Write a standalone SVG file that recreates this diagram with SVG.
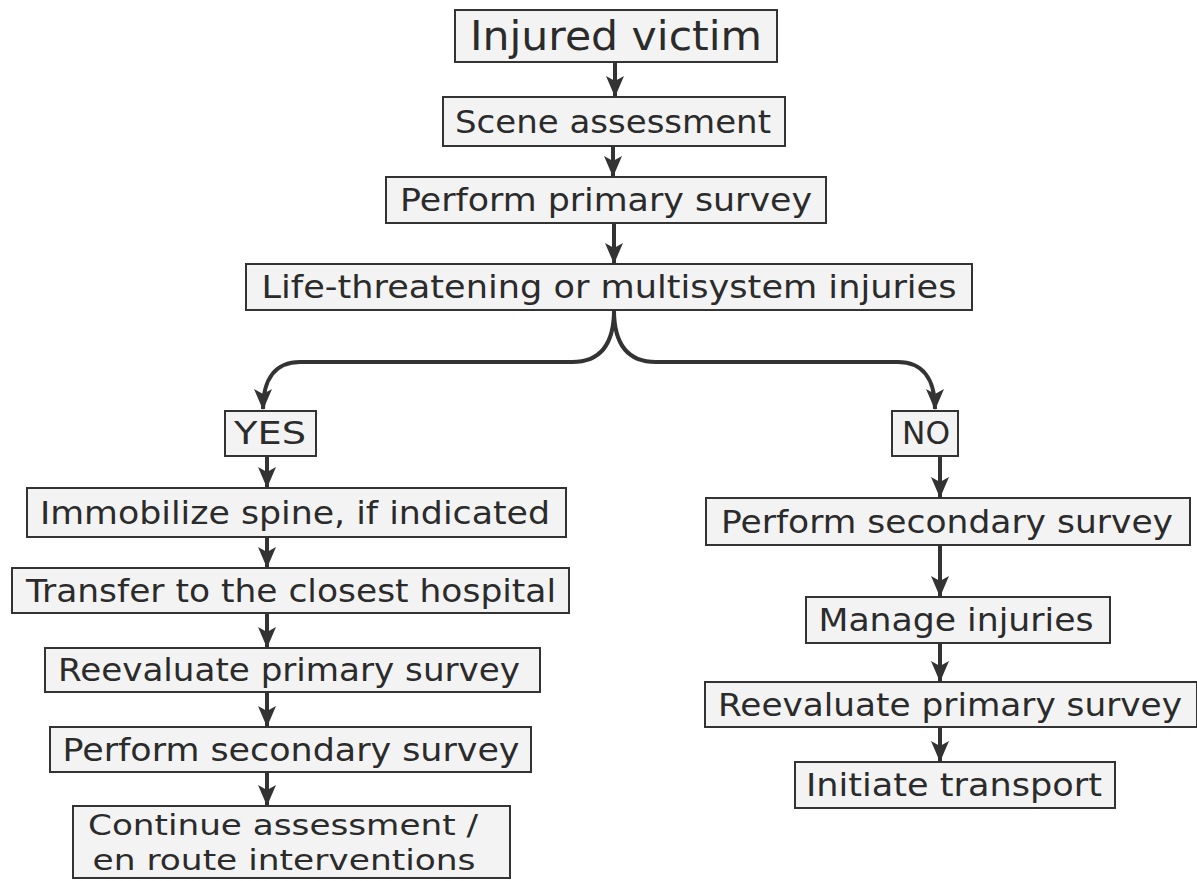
<svg xmlns="http://www.w3.org/2000/svg" width="1197" height="881" viewBox="0 0 1197 881">
<style>
.box{fill:#f3f3f3;stroke:#333;stroke-width:2}
.t{font-family:"DejaVu Sans",Verdana,sans-serif;font-size:32px;fill:#2b2b2b;text-anchor:middle}
.c{fill:none;stroke:#333;stroke-width:4}
</style>
<defs>
<marker id="ah" markerWidth="22" markerHeight="20" refX="20" refY="10" orient="auto" markerUnits="userSpaceOnUse">
<path d="M0,1 L21,10 L0,19 L5,10 Z" fill="#333"/>
</marker>
</defs>
<rect width="1197" height="881" fill="#fff"/>
<g id="n1"><rect class="box" x="455" y="10" width="322" height="52"/><text class="t" x="616" y="50" style="font-size:40px" textLength="292" lengthAdjust="spacingAndGlyphs">Injured victim</text></g>
<g id="n2"><rect class="box" x="443" y="97" width="342" height="49"/><text class="t" x="613" y="133" textLength="316" lengthAdjust="spacingAndGlyphs">Scene assessment</text></g>
<g id="n3"><rect class="box" x="386" y="177" width="440" height="46"/><text class="t" x="606" y="211" textLength="412" lengthAdjust="spacingAndGlyphs">Perform primary survey</text></g>
<g id="n4"><rect class="box" x="246" y="264" width="726" height="46"/><text class="t" x="609" y="298" textLength="695" lengthAdjust="spacingAndGlyphs">Life-threatening or multisystem injuries</text></g>
<g id="yes"><rect class="box" x="225" y="411" width="91" height="45"/><text class="t" x="270" y="444" textLength="72" lengthAdjust="spacingAndGlyphs">YES</text></g>
<g id="no"><rect class="box" x="892" y="411" width="66" height="45"/><text class="t" x="926" y="444" textLength="48" lengthAdjust="spacingAndGlyphs">NO</text></g>
<g id="l1"><rect class="box" x="27" y="488" width="539" height="49"/><text class="t" x="295" y="524" textLength="510" lengthAdjust="spacingAndGlyphs">Immobilize spine, if indicated</text></g>
<g id="l2"><rect class="box" x="12" y="568" width="557" height="45"/><text class="t" x="291" y="602" textLength="530" lengthAdjust="spacingAndGlyphs">Transfer to the closest hospital</text></g>
<g id="l3"><rect class="box" x="45" y="648" width="495" height="44"/><text class="t" x="289" y="681" textLength="462" lengthAdjust="spacingAndGlyphs">Reevaluate primary survey</text></g>
<g id="l4"><rect class="box" x="50" y="727" width="481" height="45"/><text class="t" x="291" y="761" textLength="457" lengthAdjust="spacingAndGlyphs">Perform secondary survey</text></g>
<g id="l5"><rect class="box" x="73" y="806" width="437" height="72"/><text class="t" x="283" y="835" style="font-size:29px" textLength="390" lengthAdjust="spacingAndGlyphs">Continue assessment /</text><text class="t" x="284" y="870" style="font-size:29px" textLength="383" lengthAdjust="spacingAndGlyphs">en route interventions</text></g>
<g id="r1"><rect class="box" x="706" y="498" width="484" height="47"/><text class="t" x="947" y="533" textLength="452" lengthAdjust="spacingAndGlyphs">Perform secondary survey</text></g>
<g id="r2"><rect class="box" x="806" y="597" width="304" height="46"/><text class="t" x="956" y="631" textLength="275" lengthAdjust="spacingAndGlyphs">Manage injuries</text></g>
<g id="r3"><rect class="box" x="705" y="682" width="492" height="45"/><text class="t" x="950" y="716" textLength="464" lengthAdjust="spacingAndGlyphs">Reevaluate primary survey</text></g>
<g id="r4"><rect class="box" x="795" y="762" width="320" height="46"/><text class="t" x="954" y="796" textLength="296" lengthAdjust="spacingAndGlyphs">Initiate transport</text></g>
<g id="connectors">
<line class="c" x1="615" y1="62" x2="615" y2="96" marker-end="url(#ah)"/>
<line class="c" x1="613" y1="146" x2="613" y2="176" marker-end="url(#ah)"/>
<line class="c" x1="614" y1="223" x2="614" y2="263" marker-end="url(#ah)"/>
<path class="c" d="M614,310 C614,345 600,362 572,362 L300,362 C276,362 263,378 263,409" marker-end="url(#ah)"/>
<path class="c" d="M614,310 C614,345 628,362 656,362 L898,362 C922,362 935,378 935,409" marker-end="url(#ah)"/>
<line class="c" x1="267" y1="456" x2="267" y2="487" marker-end="url(#ah)"/>
<line class="c" x1="267" y1="537" x2="267" y2="567" marker-end="url(#ah)"/>
<line class="c" x1="267" y1="613" x2="267" y2="647" marker-end="url(#ah)"/>
<line class="c" x1="267" y1="692" x2="267" y2="726" marker-end="url(#ah)"/>
<line class="c" x1="267" y1="772" x2="267" y2="805" marker-end="url(#ah)"/>
<line class="c" x1="940" y1="456" x2="940" y2="497" marker-end="url(#ah)"/>
<line class="c" x1="940" y1="545" x2="940" y2="596" marker-end="url(#ah)"/>
<line class="c" x1="940" y1="643" x2="940" y2="681" marker-end="url(#ah)"/>
<line class="c" x1="940" y1="727" x2="940" y2="761" marker-end="url(#ah)"/>
</g>
</svg>
